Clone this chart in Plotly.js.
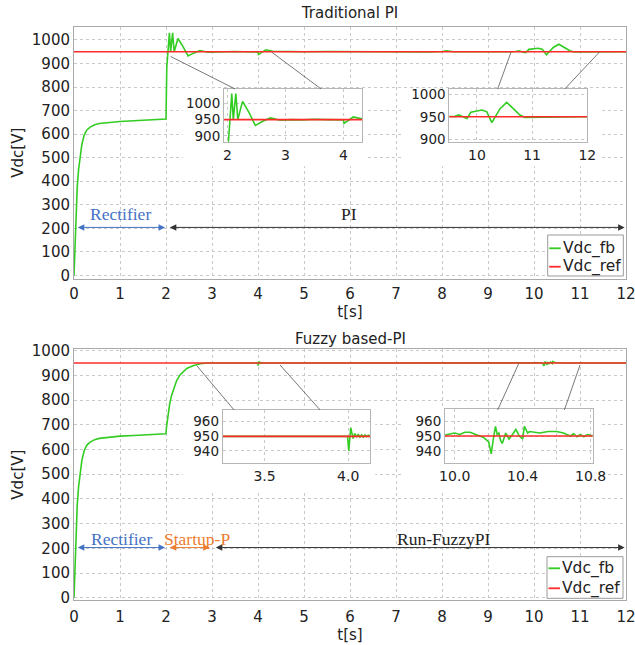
<!DOCTYPE html>
<html>
<head>
<meta charset="utf-8">
<script src="https://cdn.plot.ly/plotly-3.0.1.min.js"></script>
<style>html,body{margin:0;padding:0;background:#fff;}#chart{width:635px;height:645px;}</style>
</head>
<body>
<div id="chart"></div>
<script>
// ---------- data ----------
// Rectifier phase, shared by both control schemes (0 - 2 s)
const rectT = [0, 0.02, 0.04, 0.07, 0.10, 0.13, 0.17, 0.22, 0.28, 0.35, 0.45, 0.55, 0.70, 1.00, 1.30, 1.60, 2.00];
const rectV = [0, 120, 250, 375, 450, 505, 555, 595, 618, 630, 640, 645, 649, 654, 657, 660, 664];

// Traditional PI, after 2 s
const tradT = [2.017, 2.074, 2.10, 2.144, 2.178, 2.26, 2.37, 2.48, 2.60, 2.74, 2.91, 3.10, 3.30, 3.50, 3.70, 3.90,
  4.00, 4.01, 4.09, 4.17, 4.32, 4.60, 5.00, 5.50, 6.00, 6.50, 7.00, 7.35, 7.50, 7.75, 8.00, 8.10, 8.25, 8.60,
  8.90, 9.00, 9.30, 9.50, 9.60, 9.67, 9.75, 9.82, 9.89, 9.95, 10.09, 10.18, 10.27, 10.42, 10.54, 10.66, 10.78,
  10.87, 11.02, 11.30, 11.60, 11.90, 12.00];
const tradV = [883, 1030, 950, 1030, 950, 1006, 972, 932, 944, 955, 948, 950, 949, 951, 950, 950,
  949, 938, 948, 958, 952, 950, 950, 951, 950, 950, 950, 948, 948, 949, 951, 954, 950, 950,
  947, 949, 950, 950, 951, 954, 949, 946, 960, 961, 965, 961, 937, 968, 982, 968, 954,
  948.6, 949, 950, 949.5, 950, 950];

// Fuzzy based-PI, after 2 s
const fuzzT = [2.01, 2.03, 2.05, 2.08, 2.12, 2.16, 2.23, 2.30, 2.45, 2.60, 2.75, 2.90, 3.20, 3.60, 3.996,
  4.003, 4.015, 4.029, 4.039, 4.05, 4.06, 4.07, 4.08, 4.09, 4.10, 4.11, 4.12, 4.13, 4.30, 5.00, 6.00, 7.00, 8.00,
  9.00, 9.90, 9.95, 10.00, 10.03, 10.06, 10.09, 10.13, 10.17, 10.20, 10.215, 10.23, 10.24, 10.25, 10.26, 10.27,
  10.28, 10.30, 10.32, 10.34, 10.36, 10.38, 10.40, 10.41, 10.43, 10.44, 10.47, 10.50, 10.55, 10.60, 10.64, 10.68,
  10.70, 10.72, 10.74, 10.76, 10.78, 10.80, 10.85, 11.00, 12.00];
const fuzzV = [690, 720, 748, 785, 818, 843, 878, 901, 928, 940, 947, 950, 950, 950, 950,
  940, 956, 948.5, 952, 949.5, 951.5, 949.5, 951, 949.5, 951, 949.8, 950.8, 950, 950, 950, 950.5, 950, 950.5,
  950, 950, 950.8, 952, 951, 952.5, 952.5, 951, 949, 946, 938, 950, 956.5, 951, 952, 947,
  945, 952, 948, 951, 954.5, 950, 948, 956.5, 952, 953, 952.5, 952, 953, 953, 952, 950,
  951.5, 949.5, 951, 949.5, 951, 950.5, 950, 950, 950];

// Reference voltage
const refT = [0, 12];
const refV = [950, 950];

const mainTicks = [0,1,2,3,4,5,6,7,8,9,10,11,12];
const legendNames = ['Vdc_fb', 'Vdc_ref'];

// ---------- styling ----------
const W = 635, H = 645;
const dx = (a, b) => [a / W, b / W];
const dy = (top, bot) => [1 - bot / H, 1 - top / H];
const px = v => v / W, py = v => 1 - v / H;
const GREEN = '#33cc22', RED = '#ff2b2b';
const FONT = 'DejaVu Sans, Verdana, sans-serif';
const SERIF = 'Liberation Serif, Times New Roman, serif';

const tradFbT = rectT.concat(tradT), tradFbV = rectV.concat(tradV);
const fuzzFbT = rectT.concat(fuzzT), fuzzFbV = rectV.concat(fuzzV);

function fb(x, y, xa, ya) {
  return {x: x, y: y, xaxis: xa, yaxis: ya, type: 'scatter', mode: 'lines', name: legendNames[0],
    line: {color: GREEN, width: 1.6}, showlegend: false, hoverinfo: 'skip'};
}
function rf(xa, ya) {
  return {x: refT, y: refV, xaxis: xa, yaxis: ya, type: 'scatter', mode: 'lines', name: legendNames[1],
    line: {color: RED, width: 1.6}, showlegend: false, hoverinfo: 'skip'};
}

const data = [
  fb(tradFbT, tradFbV, 'x', 'y'), rf('x', 'y'),
  fb(tradFbT, tradFbV, 'x2', 'y2'), rf('x2', 'y2'),
  fb(tradFbT, tradFbV, 'x3', 'y3'), rf('x3', 'y3'),
  fb(fuzzFbT, fuzzFbV, 'x4', 'y4'), rf('x4', 'y4'),
  fb(fuzzFbT, fuzzFbV, 'x5', 'y5'), rf('x5', 'y5'),
  fb(fuzzFbT, fuzzFbV, 'x6', 'y6'), rf('x6', 'y6')
];

const gridBase = {showgrid: true, gridcolor: '#c9c9c9', griddash: 'dot', gridwidth: 1, zeroline: false,
  showline: true, mirror: true, linecolor: '#a9a9a9', linewidth: 1, ticks: '', ticklabeloverflow: 'allow',
  tickfont: {family: FONT, size: 15, color: '#222'}, fixedrange: true};
function ax(o) { return Object.assign({}, gridBase, o); }
const insetX = {linecolor: '#b5b5b5', tickfont: {family: FONT, size: 14, color: '#222'}};
const insetY = {linecolor: '#b5b5b5', tickfont: {family: FONT, size: 13.5, color: '#222'}};

// manual legend boxes (box position in pixels: left, top, right, bottom, row centres)
function legendShapes(l, t, r, b, r1, r2) {
  return [
    {type: 'rect', xref: 'paper', yref: 'paper', x0: px(l), x1: px(r), y0: py(b), y1: py(t),
      fillcolor: '#fff', line: {color: '#9a9a9a', width: 1}, layer: 'above'},
    {type: 'line', xref: 'paper', yref: 'paper', x0: px(l + 1.5), x1: px(l + 13), y0: py(r1), y1: py(r1),
      line: {color: GREEN, width: 1.8}, layer: 'above'},
    {type: 'line', xref: 'paper', yref: 'paper', x0: px(l + 1.5), x1: px(l + 13), y0: py(r2), y1: py(r2),
      line: {color: RED, width: 1.8}, layer: 'above'}
  ];
}
function legendTexts(l, r1, r2) {
  return [
    {text: legendNames[0], xref: 'paper', yref: 'paper', x: px(l + 13), y: py(r1), xanchor: 'left', yanchor: 'middle',
      showarrow: false, font: {family: FONT, size: 15.5, color: '#222'}},
    {text: legendNames[1], xref: 'paper', yref: 'paper', x: px(l + 13), y: py(r2), xanchor: 'left', yanchor: 'middle',
      showarrow: false, font: {family: FONT, size: 15.5, color: '#222'}}
  ];
}

const layout = {
  width: W, height: H,
  margin: {l: 0, r: 0, t: 0, b: 0},
  paper_bgcolor: '#fff', plot_bgcolor: '#fff',
  font: {family: FONT, size: 15, color: '#222'},
  showlegend: false,
  title: {text: 'Traditional PI', font: {family: FONT, size: 15, color: '#222'},
    x: 350 / W, xanchor: 'center', y: 1 - 13 / H, yanchor: 'middle'},
  xaxis: ax({domain: dx(74, 626), range: [0, 12], tickvals: mainTicks, anchor: 'y', ticklabelstandoff: 1,
    title: {text: 't[s]', font: {family: FONT, size: 15}, standoff: 4}}),
  yaxis: ax({domain: dy(27, 278.5), range: [-13, 1055], dtick: 100, anchor: 'x',
    title: {text: 'Vdc[V]', font: {family: FONT, size: 15}, standoff: 4}}),
  xaxis2: ax(Object.assign({domain: dx(224, 362), range: [1.94, 4.32], tickvals: [2, 3, 4], anchor: 'y2'}, insetX)),
  yaxis2: ax(Object.assign({domain: dy(89, 141.7), range: [882, 1044], tickvals: [900, 950, 1000], anchor: 'x2'}, insetY)),
  xaxis3: ax(Object.assign({domain: dx(449.3, 587.3), range: [9.5, 12], tickvals: [10, 11, 12], anchor: 'y3'}, insetX)),
  yaxis3: ax(Object.assign({domain: dy(89.3, 142), range: [894, 1011], tickvals: [900, 950, 1000], anchor: 'x3'}, insetY)),
  xaxis4: ax({domain: dx(74, 626), range: [0, 12], tickvals: mainTicks, anchor: 'y4', ticklabelstandoff: 3,
    title: {text: 't[s]', font: {family: FONT, size: 15}, standoff: 4}}),
  yaxis4: ax({domain: dy(349.3, 600), range: [-9.3, 1005.7], dtick: 100, anchor: 'x4',
    title: {text: 'Vdc[V]', font: {family: FONT, size: 15}, standoff: 4}}),
  xaxis5: ax(Object.assign({domain: dx(222.7, 370), range: [3.25, 4.13], tickvals: [3.5, 4.0], ticktext: ['3.5', '4.0'], anchor: 'y5'}, insetX)),
  yaxis5: ax(Object.assign({domain: dy(410, 462.7), range: [932, 968], tickvals: [940, 950, 960], anchor: 'x5'}, insetY)),
  xaxis6: ax(Object.assign({domain: dx(445, 592.7), range: [9.943, 10.812], tickvals: [10, 10.2, 10.4, 10.6, 10.8],
    ticktext: ['10.0', '', '10.4', '', '10.8'], anchor: 'y6'}, insetX)),
  yaxis6: ax(Object.assign({domain: dy(409.3, 462.7), range: [932, 968], tickvals: [940, 950, 960], anchor: 'x6'}, insetY)),
  shapes: [
    // white backgrounds behind the insets and their tick labels
    {type: 'rect', xref: 'x', yref: 'y', x0: 2.37, x1: 6.39, y0: 464, y1: 793, fillcolor: '#fff', line: {width: 0}, layer: 'between'},
    {type: 'rect', xref: 'x', yref: 'y', x0: 7.15, x1: 11.48, y0: 464, y1: 793, fillcolor: '#fff', line: {width: 0}, layer: 'between'},
    {type: 'rect', xref: 'x4', yref: 'y4', x0: 2.37, x1: 6.55, y0: 428, y1: 765, fillcolor: '#fff', line: {width: 0}, layer: 'between'},
    {type: 'rect', xref: 'x4', yref: 'y4', x0: 7.15, x1: 11.43, y0: 428, y1: 765, fillcolor: '#fff', line: {width: 0}, layer: 'between'},
    // zoom connector lines
    {type: 'line', xref: 'x', yref: 'y', x0: 2.1, y0: 930, x1: 3.5, y1: 792, line: {color: '#555', width: 0.8}},
    {type: 'line', xref: 'x', yref: 'y', x0: 4.3, y0: 948, x1: 5.37, y1: 792, line: {color: '#555', width: 0.8}},
    {type: 'line', xref: 'x', yref: 'y', x0: 9.5, y0: 948, x1: 9.21, y1: 792, line: {color: '#555', width: 0.8}},
    {type: 'line', xref: 'x', yref: 'y', x0: 11.43, y0: 950, x1: 10.67, y1: 792, line: {color: '#555', width: 0.8}},
    {type: 'line', xref: 'x4', yref: 'y4', x0: 2.67, y0: 939, x1: 3.48, y1: 760, line: {color: '#555', width: 0.8}},
    {type: 'line', xref: 'x4', yref: 'y4', x0: 4.48, y0: 942, x1: 5.35, y1: 760, line: {color: '#555', width: 0.8}},
    {type: 'line', xref: 'x4', yref: 'y4', x0: 9.67, y0: 949, x1: 9.21, y1: 760, line: {color: '#555', width: 0.8}},
    {type: 'line', xref: 'x4', yref: 'y4', x0: 11.0, y0: 942, x1: 10.66, y1: 760, line: {color: '#555', width: 0.8}}
  ].concat(legendShapes(547.7, 235, 623.3, 276, 248.3, 266.7), legendShapes(547, 556.7, 623, 598.3, 568.3, 588.3)),
  annotations: [
    {text: 'Fuzzy based-PI', xref: 'paper', yref: 'paper', x: 350 / W, y: 1 - 339 / H, xanchor: 'center', yanchor: 'middle',
      showarrow: false, font: {family: FONT, size: 15, color: '#222'}},
    // phase arrows
    {text: '', xref: 'x', yref: 'y', axref: 'x', ayref: 'y', x: 1.98, y: 204, ax: 0.05, ay: 204, showarrow: true,
      arrowhead: 2, startarrowhead: 2, arrowside: 'end+start', arrowsize: 1.3, startarrowsize: 1.3, arrowwidth: 1, arrowcolor: '#4472c4'},
    {text: '', xref: 'x', yref: 'y', axref: 'x', ayref: 'y', x: 11.97, y: 204, ax: 2.05, ay: 204, showarrow: true,
      arrowhead: 2, startarrowhead: 2, arrowside: 'end+start', arrowsize: 1.3, startarrowsize: 1.3, arrowwidth: 1, arrowcolor: '#333'},
    {text: '', xref: 'x4', yref: 'y4', axref: 'x4', ayref: 'y4', x: 1.98, y: 203, ax: 0.05, ay: 203, showarrow: true,
      arrowhead: 2, startarrowhead: 2, arrowside: 'end+start', arrowsize: 1.3, startarrowsize: 1.3, arrowwidth: 1, arrowcolor: '#4472c4'},
    {text: '', xref: 'x4', yref: 'y4', axref: 'x4', ayref: 'y4', x: 2.95, y: 203, ax: 2.05, ay: 203, showarrow: true,
      arrowhead: 2, startarrowhead: 2, arrowside: 'end+start', arrowsize: 1.3, startarrowsize: 1.3, arrowwidth: 1, arrowcolor: '#ed7d31'},
    {text: '', xref: 'x4', yref: 'y4', axref: 'x4', ayref: 'y4', x: 11.97, y: 203, ax: 3.05, ay: 203, showarrow: true,
      arrowhead: 2, startarrowhead: 2, arrowside: 'end+start', arrowsize: 1.3, startarrowsize: 1.3, arrowwidth: 1, arrowcolor: '#333'},
    // phase labels
    {text: 'Rectifier', xref: 'x', yref: 'y', x: 1.02, y: 260, showarrow: false, font: {family: SERIF, size: 17.5, color: '#4472c4'}},
    {text: 'PI', xref: 'x', yref: 'y', x: 5.98, y: 260, showarrow: false, font: {family: SERIF, size: 17.5, color: '#222'}},
    {text: 'Rectifier', xref: 'x4', yref: 'y4', x: 1.04, y: 236, showarrow: false, font: {family: SERIF, size: 17.5, color: '#4472c4'}},
    {text: 'Startup-P', xref: 'x4', yref: 'y4', x: 2.67, y: 236, showarrow: false, font: {family: SERIF, size: 17.5, color: '#ed7d31'}},
    {text: 'Run-FuzzyPI', xref: 'x4', yref: 'y4', x: 8.04, y: 236, showarrow: false, font: {family: SERIF, size: 17.5, color: '#222'}}
  ].concat(legendTexts(547.7, 248.3, 266.7), legendTexts(547, 568.3, 588.3))
};

Plotly.newPlot('chart', data, layout, {staticPlot: true, displayModeBar: false});
</script>
</body>
</html>
